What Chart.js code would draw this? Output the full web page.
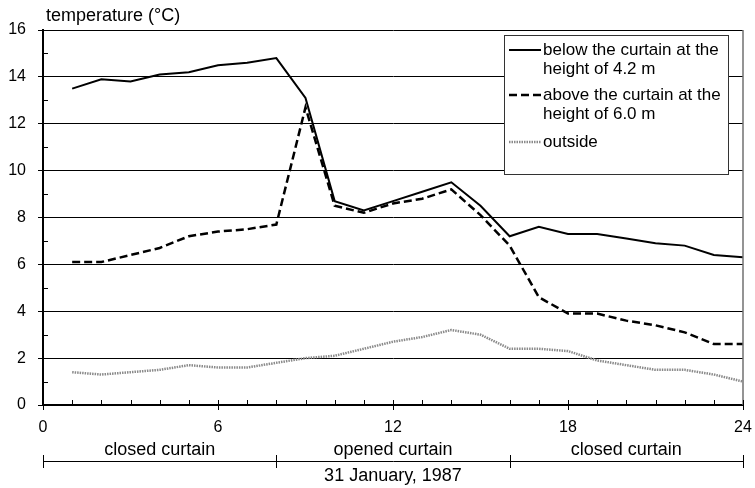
<!DOCTYPE html>
<html>
<head>
<meta charset="utf-8">
<script src="https://cdn.jsdelivr.net/npm/chart.js@4.4.0/dist/chart.umd.min.js"></script>
<style>
  html, body { margin: 0; padding: 0; background: #fff; }
  #wrap { width: 755px; height: 488px; }
</style>
</head>
<body>
<div id="wrap"><canvas id="tempChart" width="755" height="488"></canvas></div>
<script>
// hours of the day
const hours = [1, 2, 3, 4, 5, 6, 7, 8, 9, 10, 11, 12, 13, 14, 15, 16, 17, 18, 19, 20, 21, 22, 23, 24];

// temperatures (°C)
const belowCurtain = [13.5, 13.9, 13.8, 14.1, 14.2, 14.5, 14.6, 14.8, 13.1, 8.7, 8.3, 8.7, 9.1, 9.5, 8.5, 7.2, 7.6, 7.3, 7.3, 7.1, 6.9, 6.8, 6.4, 6.3];
const aboveCurtain = [6.1, 6.1, 6.4, 6.7, 7.2, 7.4, 7.5, 7.7, 12.7, 8.5, 8.2, 8.6, 8.8, 9.2, 8.1, 6.8, 4.6, 3.9, 3.9, 3.6, 3.4, 3.1, 2.6, 2.6];
const outside = [1.4, 1.3, 1.4, 1.5, 1.7, 1.6, 1.6, 1.8, 2.0, 2.1, 2.4, 2.7, 2.9, 3.2, 3.0, 2.4, 2.4, 2.3, 1.9, 1.7, 1.5, 1.5, 1.3, 1.0];

// legend text (wrapped like the original)
const seriesLabels = [
  ['below the curtain at the', 'height of 4.2 m'],
  ['above the curtain at the', 'height of 6.0 m'],
  ['outside']
];

// curtain periods under the x axis
const periodBounds = [0, 8, 16, 24];
const periodNames = ['closed curtain', 'opened curtain', 'closed curtain'];
const dateLabel = '31 January, 1987';
const yTitle = 'temperature (°C)';

const FONT = '"Liberation Sans", Arial, sans-serif';

const toPoints = (vals) => vals.map((v, i) => ({ x: hours[i], y: v }));

// minor ticks, frame, legend and the labels below the axis
const extras = {
  id: 'extras',
  afterDraw(chart) {
    const ctx = chart.ctx;
    const xs = chart.scales.x;
    const ys = chart.scales.y;
    const area = chart.chartArea;
    ctx.save();

    // right border of the plot
    ctx.strokeStyle = '#707070';
    ctx.lineWidth = 1.5;
    ctx.beginPath();
    ctx.moveTo(area.right, area.top);
    ctx.lineTo(area.right, area.bottom);
    ctx.stroke();

    ctx.strokeStyle = '#000';
    ctx.lineWidth = 1;
    // y minor ticks
    for (let v = 1; v < 16; v += 2) {
      const py = Math.round(ys.getPixelForValue(v)) + 0.5;
      ctx.beginPath();
      ctx.moveTo(area.left, py);
      ctx.lineTo(area.left + 5, py);
      ctx.stroke();
    }
    // x ticks every hour, upward
    for (let h = 1; h <= 24; h++) {
      const px = Math.round(xs.getPixelForValue(h)) + 0.5;
      ctx.beginPath();
      ctx.moveTo(px, area.bottom);
      ctx.lineTo(px, area.bottom - 5);
      ctx.stroke();
    }

    // legend
    const lx = 504, ly = 35, lw = 224, lh = 139;
    ctx.fillStyle = '#fff';
    ctx.fillRect(lx, ly, lw, lh);
    ctx.strokeStyle = '#333';
    ctx.lineWidth = 1;
    ctx.strokeRect(lx + 0.5, ly + 0.5, lw, lh);
    const rowY = [50, 95, 142];
    ctx.font = '17px ' + FONT;
    ctx.textBaseline = 'middle';
    ctx.textAlign = 'left';
    chart.data.datasets.forEach((ds, i) => {
      ctx.save();
      ctx.strokeStyle = ds.borderColor;
      ctx.lineWidth = ds.borderWidth;
      ctx.setLineDash(ds.borderDash || []);
      ctx.beginPath();
      ctx.moveTo(509, rowY[i]);
      ctx.lineTo(541, rowY[i]);
      ctx.stroke();
      ctx.restore();
      ctx.fillStyle = '#000';
      seriesLabels[i].forEach((t, k) => ctx.fillText(t, 543, rowY[i] + k * 19));
    });

    // y title
    ctx.font = '18px ' + FONT;
    ctx.fillStyle = '#000';
    ctx.textAlign = 'left';
    ctx.fillText(yTitle, 46, 16);

    // curtain periods
    ctx.textAlign = 'center';
    for (let i = 0; i < periodNames.length; i++) {
      const mid = xs.getPixelForValue((periodBounds[i] + periodBounds[i + 1]) / 2);
      ctx.fillText(periodNames[i], mid, 450);
    }
    ctx.strokeStyle = '#000';
    ctx.lineWidth = 1;
    const x0 = Math.round(xs.getPixelForValue(periodBounds[0])) + 0.5;
    const x1 = Math.round(xs.getPixelForValue(periodBounds[periodBounds.length - 1])) + 0.5;
    ctx.beginPath();
    ctx.moveTo(x0, 461.5);
    ctx.lineTo(x1, 461.5);
    ctx.stroke();
    periodBounds.forEach(b => {
      const px = Math.round(xs.getPixelForValue(b)) + 0.5;
      ctx.beginPath();
      ctx.moveTo(px, 455);
      ctx.lineTo(px, 468);
      ctx.stroke();
    });
    ctx.fillText(dateLabel, xs.getPixelForValue(12), 476.5);

    ctx.restore();
  }
};

new Chart(document.getElementById('tempChart'), {
  type: 'line',
  data: {
    datasets: [
      {
        label: seriesLabels[0].join(' '),
        data: toPoints(belowCurtain),
        borderColor: '#000',
        borderWidth: 2,
        pointRadius: 0,
        tension: 0
      },
      {
        label: seriesLabels[1].join(' '),
        data: toPoints(aboveCurtain),
        borderColor: '#000',
        borderWidth: 2.5,
        borderDash: [8, 4],
        pointRadius: 0,
        tension: 0
      },
      {
        label: seriesLabels[2].join(' '),
        data: toPoints(outside),
        borderColor: '#8a8a8a',
        borderWidth: 2.5,
        borderDash: [1.5, 1],
        pointRadius: 0,
        tension: 0
      }
    ]
  },
  options: {
    responsive: false,
    animation: false,
    layout: { padding: { top: 30, right: 12, left: 0, bottom: 0 } },
    plugins: {
      legend: { display: false },
      tooltip: { enabled: false }
    },
    scales: {
      x: {
        type: 'linear',
        min: 0,
        max: 24,
        afterFit(scale) {
          scale.height = 83;
          scale.paddingLeft = 0;
          scale.paddingRight = 0;
        },
        border: { color: '#000', width: 2 },
        grid: { display: true, drawOnChartArea: false, drawTicks: true, tickLength: 5, color: '#000' },
        ticks: { stepSize: 6, color: '#000', padding: 8, font: { family: FONT, size: 16 }, maxRotation: 0 }
      },
      y: {
        min: 0,
        max: 16,
        afterFit(scale) {
          scale.width = 43;
          scale.paddingTop = 0;
          scale.paddingBottom = 0;
        },
        border: { color: '#000', width: 2 },
        grid: { color: '#000', lineWidth: 1, tickLength: 5 },
        ticks: { stepSize: 2, color: '#000', padding: 12, font: { family: FONT, size: 16 } }
      }
    }
  },
  plugins: [extras]
});
</script>
</body>
</html>
